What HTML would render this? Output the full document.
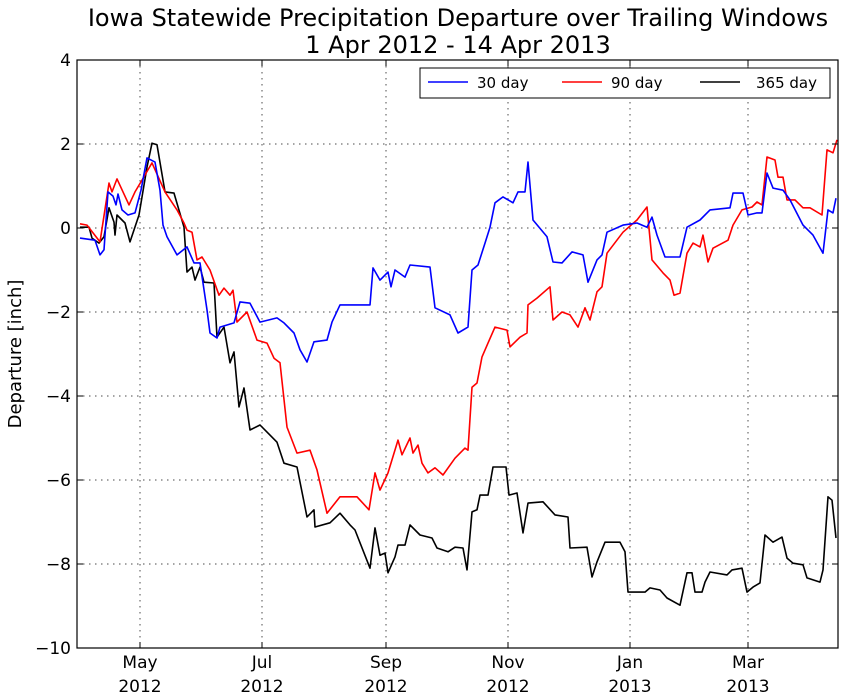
<!DOCTYPE html>
<html><head><meta charset="utf-8"><style>
body{margin:0;background:#fff;}
svg{display:block;font-family:"DejaVu Sans","Liberation Sans",sans-serif;}
</style></head><body>
<svg id="chart" width="846" height="700" viewBox="0 0 846 700" xmlns="http://www.w3.org/2000/svg">
<text x="458" y="26" text-anchor="middle" font-size="24">Iowa Statewide Precipitation Departure over Trailing Windows</text>
<text x="458" y="53" text-anchor="middle" font-size="24">1 Apr 2012 - 14 Apr 2013</text>
<text transform="translate(21,354) rotate(-90)" text-anchor="middle" font-size="18">Departure [inch]</text>
<g id="grid"></g>
<g id="series"></g>
<rect x="77" y="60" width="761" height="588" fill="none" stroke="#000" stroke-width="1.2"/>
<g id="ticks"></g>
<g>
<rect x="420" y="68" width="410" height="30" fill="#fff" stroke="#000" stroke-width="1"/>
<g><line x1="428" y1="82" x2="468" y2="82" stroke="#0000ff" stroke-width="1.6"/><text x="477" y="88" font-size="15">30 day</text></g>
<g><line x1="562" y1="82" x2="602" y2="82" stroke="#ff0000" stroke-width="1.6"/><text x="611" y="88" font-size="15">90 day</text></g>
<g><line x1="700" y1="82" x2="740" y2="82" stroke="#000" stroke-width="1.6"/><text x="756" y="88" font-size="15">365 day</text></g>
</g>
</svg>
<script>
const yTicks=[4,2,0,-2,-4,-6,-8,-10];
const xTickDays=[30,91,153,214,275,334];
const xTickMonths=["May","Jul","Sep","Nov","Jan","Mar"];
const xTickYears=["2012","2012","2012","2012","2013","2013"];
const days30=[0,7.5,10,12,14,16.5,18,19,21,24,27.5,30.5,33.5,37.5,40,41.5,43.5,48.5,53.5,57,60,63.5,65,68.5,70,77,80,85,90,98.5,102,107,110,113.5,117,123.5,126,130,145,146.5,150,154,155.5,157.5,162.5,165,175,177.5,185,189,194,196,199,202.5,205,207.5,211.5,216.5,219,222.5,224,226.5,233.5,236.5,241,246,251.5,254,258.5,261,263.5,271.5,278.5,283.5,286,288.5,292.5,300,303.5,310,315,325,326.5,331.5,334,338.5,341,343.5,346.5,351.5,355,361.5,366.5,371.5,374,376.5,378];
const vals30=[-0.24,-0.29,-0.64,-0.52,0.86,0.76,0.55,0.81,0.43,0.31,0.36,0.9,1.67,1.57,0.9,0.07,-0.21,-0.64,-0.45,-0.83,-0.83,-1.95,-2.5,-2.62,-2.36,-2.26,-1.76,-1.79,-2.24,-2.14,-2.26,-2.5,-2.9,-3.19,-2.71,-2.67,-2.24,-1.83,-1.83,-0.95,-1.24,-1.05,-1.4,-1.0,-1.17,-0.88,-0.93,-1.9,-2.07,-2.5,-2.36,-1.0,-0.88,-0.36,0.02,0.6,0.74,0.6,0.86,0.86,1.57,0.19,-0.21,-0.81,-0.83,-0.57,-0.64,-1.29,-0.76,-0.64,-0.1,0.07,0.12,0.02,0.26,-0.17,-0.69,-0.69,0.02,0.19,0.43,0.48,0.83,0.83,0.31,0.36,0.36,1.31,0.95,0.9,0.67,0.07,-0.17,-0.6,0.43,0.36,0.71];
const days90=[0,3.5,10,14.5,16,18.5,24.5,27.5,31,36,42.5,48.5,52,53.5,56,58.5,61,65,69.5,72,75,76.5,78.5,83.5,88.5,93.5,97,100,103.5,108.5,115,118.5,123.5,130,138.5,144.5,147.5,150,154,159,161,165,166.5,169,171,174,177.5,181.5,187.5,192.5,194,196,198.5,201,204,207.5,213.5,215,220,223.5,224,228.5,235,236.5,241,245,249,252.5,255,258.5,261,263.5,271.5,278.5,283.5,286,291.5,295,297,300,303.5,306.5,310,311.5,314,316.5,324,326.5,331,336,338.5,341,343.5,347.5,349,351.5,353.5,357.5,361.5,365,371,373.5,376.5,378.5];
const vals90=[0.1,0.07,-0.33,1.07,0.86,1.17,0.55,0.86,1.14,1.55,0.86,0.43,0.12,-0.05,-0.1,-0.76,-0.69,-1.0,-1.6,-1.43,-1.6,-1.48,-2.24,-2.0,-2.67,-2.74,-3.1,-3.21,-4.74,-5.36,-5.29,-5.76,-6.79,-6.4,-6.4,-6.71,-5.83,-6.24,-5.83,-5.05,-5.4,-5.0,-5.36,-5.17,-5.6,-5.83,-5.71,-5.88,-5.48,-5.24,-5.29,-3.79,-3.69,-3.07,-2.74,-2.36,-2.43,-2.83,-2.6,-2.5,-1.83,-1.67,-1.4,-2.19,-2.0,-2.07,-2.36,-1.9,-2.19,-1.52,-1.4,-0.6,-0.1,0.19,0.5,-0.76,-1.07,-1.24,-1.6,-1.55,-0.6,-0.36,-0.45,-0.17,-0.81,-0.48,-0.29,0.07,0.43,0.5,0.62,0.55,1.69,1.62,1.21,1.21,0.67,0.67,0.48,0.48,0.31,1.86,1.79,2.1];
const days365=[0,4.5,6,9.5,12,14.5,17,17.5,18.5,22.5,25,29.5,33.5,36,38.5,42.5,47,52,53.5,56,57.5,60,62,67,68.5,72,75,77,79.5,82,85,90,93.5,98.5,102,108.5,113.5,117,117.5,125,130,135,137.5,145,147.5,150,152.5,154,157.5,159,162.5,165,170,176,178.5,184,187.5,191.5,193.5,196,198.5,200,204,206.5,213,214.5,218.5,221.5,224,231.5,237.5,244,245,253.5,256,258.5,262.5,270,272.5,274,282.5,285,290,293.5,300,303.5,306,307.5,311,312.5,315,323.5,326,331,333.5,336.5,340,342.5,346.5,351,353.5,356.5,361.5,363.5,370,371.5,374,376,378];
const vals365=[0.02,0.02,-0.24,-0.36,-0.21,0.48,0.14,-0.17,0.31,0.12,-0.33,0.31,1.45,2.02,1.98,0.86,0.83,0.02,-1.05,-0.93,-1.24,-0.93,-1.29,-1.31,-2.6,-2.36,-3.21,-2.95,-4.26,-3.81,-4.81,-4.69,-4.86,-5.1,-5.6,-5.69,-6.88,-6.71,-7.12,-7.02,-6.79,-7.07,-7.19,-8.1,-7.14,-7.79,-7.74,-8.21,-7.83,-7.55,-7.55,-7.07,-7.31,-7.38,-7.62,-7.71,-7.6,-7.62,-8.14,-6.76,-6.71,-6.36,-6.36,-5.69,-5.69,-6.36,-6.31,-7.26,-6.55,-6.52,-6.83,-6.88,-7.62,-7.6,-8.31,-7.95,-7.48,-7.48,-7.71,-8.67,-8.67,-8.57,-8.62,-8.81,-8.98,-8.21,-8.21,-8.67,-8.67,-8.43,-8.19,-8.26,-8.14,-8.1,-8.67,-8.55,-8.45,-7.31,-7.48,-7.36,-7.86,-7.98,-8.02,-8.33,-8.43,-8.14,-6.4,-6.48,-7.38];

const NS="http://www.w3.org/2000/svg";
const X0=77,X1=838,Y0=60,Y1=648,DMIN=-1.5,DMAX=379,VMIN=-10,VMAX=4;
function xs(d){return X0+(d-DMIN)/(DMAX-DMIN)*(X1-X0);}
function ys(v){return Y1-(v-VMIN)/(VMAX-VMIN)*(Y1-Y0);}
function mk(tag,attrs,parent){const e=document.createElementNS(NS,tag);for(const k in attrs)e.setAttribute(k,attrs[k]);parent.appendChild(e);return e;}
const grid=document.getElementById('grid'),ticks=document.getElementById('ticks'),series=document.getElementById('series');
yTicks.forEach(v=>{
  const y=ys(v);
  if(v>VMIN&&v<VMAX){const g=mk('line',{x1:X0,x2:X1,y1:y,y2:y,stroke:'#000','stroke-width':1,'stroke-dasharray':'1.5,4.5',opacity:0.7},grid);
  
  }
  mk('line',{x1:X0,x2:X0+6,y1:y,y2:y,stroke:'#000'},ticks);
  mk('line',{x1:X1-6,x2:X1,y1:y,y2:y,stroke:'#000'},ticks);
  const t=mk('text',{x:X0-6,y:y+6,'text-anchor':'end','font-size':17},ticks);
  
  
  t.textContent=(v<0?'\u2212':'')+Math.abs(v);
});
xTickDays.forEach((d,i)=>{
  const x=xs(d);
  const g=mk('line',{x1:x,x2:x,y1:Y0,y2:Y1,stroke:'#000','stroke-width':1,'stroke-dasharray':'1.5,4.5',opacity:0.7},grid);
  
  
  mk('line',{x1:x,x2:x,y1:Y1-6,y2:Y1,stroke:'#000'},ticks);
  mk('line',{x1:x,x2:x,y1:Y0,y2:Y0+6,stroke:'#000'},ticks);
  const t=mk('text',{x:x,y:668,'text-anchor':'middle','font-size':17},ticks);
  
  
  t.textContent=xTickMonths[i];
  const t2=mk('text',{x:x,y:692,'text-anchor':'middle','font-size':17},ticks);
  
  
  t2.textContent=xTickYears[i];
});
function line(days,vals,color,name){
  const pts=days.map((d,i)=>xs(d).toFixed(1)+','+ys(vals[i]).toFixed(1)).join(' ');
  const p=mk('polyline',{points:pts,fill:'none',stroke:color,'stroke-width':1.6,'stroke-linejoin':'round'},series);
  
  
}
line(days365,vals365,'#000000','line-365-day');
line(days90,vals90,'#ff0000','line-90-day');
line(days30,vals30,'#0000ff','line-30-day');
</script>
</body></html>
